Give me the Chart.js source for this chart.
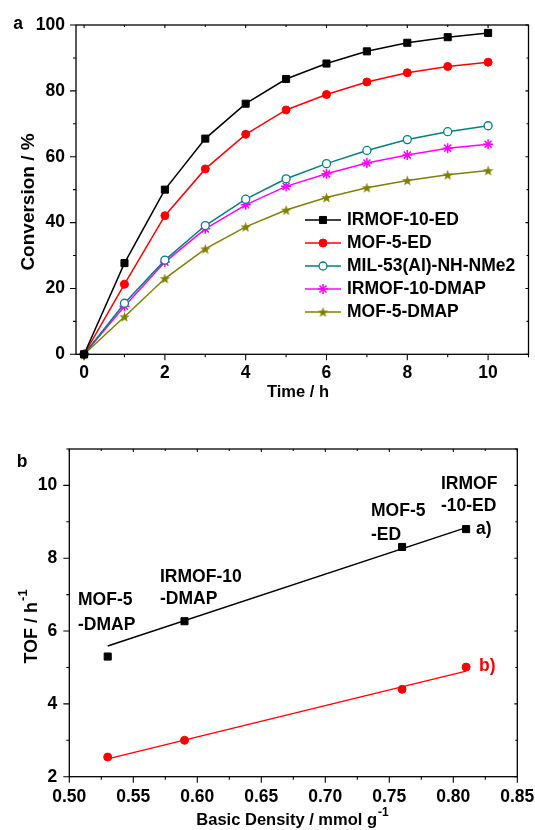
<!DOCTYPE html>
<html>
<head>
<meta charset="utf-8">
<script src="https://cdn.jsdelivr.net/npm/chart.js@4.4.1/dist/chart.umd.min.js"></script>
<style>
html, body { margin: 0; padding: 0; background: #fff; }
canvas { display: block; }
</style>
</head>
<body>
<canvas id="grafA" width="535" height="415"></canvas>
<canvas id="grafB" width="535" height="415"></canvas>
<script>
// Painel a: conversao x tempo
const tempo = [0, 1, 2, 3, 4, 5, 6, 7, 8, 9, 10];
const irmof10ED = [0, 27.7, 50.0, 65.5, 76.1, 83.6, 88.3, 92.0, 94.6, 96.3, 97.6];
const mof5ED = [0, 21.3, 42.1, 56.3, 66.8, 74.2, 78.9, 82.7, 85.5, 87.4, 88.7];
const mil53 = [0, 15.5, 28.6, 39.1, 47.1, 53.3, 57.9, 61.9, 65.2, 67.6, 69.4];
const irmof10DMAP = [0, 14.6, 28.0, 38.1, 45.4, 51.0, 54.8, 58.1, 60.5, 62.6, 63.8];
const mof5DMAP = [0, 11.4, 23.0, 32.0, 38.7, 43.8, 47.6, 50.6, 52.8, 54.5, 55.8];
const nomesA = ["IRMOF-10-ED", "MOF-5-ED", "MIL-53(Al)-NH-NMe2", "IRMOF-10-DMAP", "MOF-5-DMAP"];
const ticksTempo = [0, 2, 4, 6, 8, 10];
const ticksConversao = [0, 20, 40, 60, 80, 100];

// Painel b: TOF x densidade basica
const densidade = [0.53, 0.59, 0.76, 0.81];
const tofA = [5.3, 6.27, 8.31, 8.8];
const tofB = [2.54, 3.0, 4.4, 5.01];
const ajusteX = [0.53, 0.81];
const ajusteA = [5.59, 8.84];
const ajusteB = [2.49, 4.9];
const nomesB = [["MOF-5", "-DMAP"], ["IRMOF-10", "-DMAP"], ["MOF-5", "-ED"], ["IRMOF", "-10-ED"]];
const ticksDensidade = [0.50, 0.55, 0.60, 0.65, 0.70, 0.75, 0.80, 0.85];
const ticksTOF = [2, 4, 6, 8, 10];

const fonte = '"Liberation Sans", Arial, sans-serif';
const fonteTick = {family: fonte, size: 17.5, weight: 'bold'};
const negrito = 'bold 17.5px ' + fonte;

// estrela cheia de 5 pontas para usar como pointStyle
function estrela(cor, r) {
    const c = document.createElement('canvas');
    const t = Math.ceil(r * 2 + 2);
    c.width = t; c.height = t;
    const g = c.getContext('2d');
    g.fillStyle = cor;
    g.beginPath();
    for (let i = 0; i < 10; i++) {
        const ang = -Math.PI / 2 + i * Math.PI / 5;
        const rr = i % 2 == 0 ? r : r * 0.42;
        g.lineTo(t / 2 + rr * Math.cos(ang), t / 2 + rr * Math.sin(ang) + r * 0.1);
    }
    g.closePath();
    g.fill();
    return c;
}

function valoresMenores(escala) {
    const maj = escala.ticks.map(t => t.value);
    const passo = maj[1] - maj[0];
    const out = [];
    maj.forEach(v => [v - passo / 2, v + passo / 2].forEach(m => {
        if (m >= escala.min - 1e-9 && m <= escala.max + 1e-9 && !out.some(o => Math.abs(o - m) < 1e-9)) out.push(m);
    }));
    return out;
}

// caixa com marcas nos quatro lados (fora embaixo/esquerda, dentro em cima/direita)
const moldura = {
    id: 'moldura',
    afterDatasetsDraw(chart) {
        const {ctx, chartArea: a, scales: {x, y}} = chart;
        ctx.save();
        ctx.strokeStyle = '#000';
        ctx.lineWidth = 1.3;
        ctx.strokeRect(a.left, a.top, a.right - a.left, a.bottom - a.top);
        ctx.lineWidth = 1.1;
        ctx.beginPath();
        const marcaX = (v, fora, dentro) => {
            const px = x.getPixelForValue(v);
            ctx.moveTo(px, a.bottom); ctx.lineTo(px, a.bottom + fora);
            ctx.moveTo(px, a.top); ctx.lineTo(px, a.top + dentro);
        };
        const marcaY = (v, fora, dentro) => {
            const py = y.getPixelForValue(v);
            ctx.moveTo(a.left, py); ctx.lineTo(a.left - fora, py);
            ctx.moveTo(a.right, py); ctx.lineTo(a.right - dentro, py);
        };
        x.ticks.forEach(t => marcaX(t.value, 6, 3));
        valoresMenores(x).forEach(v => marcaX(v, 3, 2));
        y.ticks.forEach(t => marcaY(t.value, 6, 3));
        valoresMenores(y).forEach(v => marcaY(v, 3, 2));
        ctx.stroke();
        ctx.restore();
    }
};

// titulo com expoente (ex.: h^-1), centrado em (x, y)
function tituloExpoente(ctx, base, expo, x, y, rot, tam) {
    ctx.save();
    ctx.translate(x, y);
    ctx.rotate(rot);
    ctx.fillStyle = '#000';
    ctx.textBaseline = 'middle';
    ctx.textAlign = 'left';
    const fBase = 'bold ' + tam + 'px ' + fonte;
    const fExpo = 'bold ' + Math.round(tam * 0.7) + 'px ' + fonte;
    ctx.font = fBase;
    const wb = ctx.measureText(base).width;
    ctx.font = fExpo;
    const we = expo ? ctx.measureText(expo).width : 0;
    const ini = -(wb + we) / 2;
    ctx.font = fBase;
    ctx.fillText(base, ini, 0);
    if (expo) {
        ctx.font = fExpo;
        ctx.fillText(expo, ini + wb + 1, -tam * 0.45);
    }
    ctx.restore();
}

function texto(ctx, s, x, y, cor, alinha) {
    ctx.save();
    ctx.fillStyle = cor || '#000';
    ctx.font = negrito;
    ctx.textBaseline = 'middle';
    ctx.textAlign = alinha || 'left';
    ctx.fillText(s, x, y);
    ctx.restore();
}

function desenharPonto(ctx, ds, x, y) {
    if (Chart.helpers && Chart.helpers.drawPoint) {
        Chart.helpers.drawPoint(ctx, {pointStyle: ds.pointStyle, rotation: 0, radius: ds.pointRadius, borderWidth: ds.pointBorderWidth}, x, y);
    }
}

const legendaA = {
    id: 'legendaA',
    afterDraw(chart) {
        const ctx = chart.ctx;
        chart.data.datasets.forEach((ds, i) => {
            const y = 220 + i * 23;
            ctx.save();
            ctx.strokeStyle = ds.borderColor;
            ctx.lineWidth = ds.borderWidth;
            ctx.beginPath(); ctx.moveTo(305, y); ctx.lineTo(341, y); ctx.stroke();
            ctx.fillStyle = ds.pointBackgroundColor;
            ctx.strokeStyle = ds.borderColor;
            ctx.lineWidth = ds.pointBorderWidth;
            desenharPonto(ctx, ds, 323, y);
            ctx.restore();
            texto(ctx, ds.label, 347, y);
        });
        tituloExpoente(ctx, "Conversion / %", "", 29, 202, -Math.PI / 2, 19);
        tituloExpoente(ctx, "Time / h", "", 298, 392, 0, 16.5);
        texto(ctx, "a", 18, 24, '#000', 'center');
    }
};

const rotulosB = {
    id: 'rotulosB',
    afterDraw(chart) {
        const ctx = chart.ctx;
        const pos = [[78, 185, 210], [160, 162, 184], [371, 96, 120], [441, 69, 91]];
        nomesB.forEach((linhas, i) => {
            texto(ctx, linhas[0], pos[i][0], pos[i][1]);
            texto(ctx, linhas[1], pos[i][0], pos[i][2]);
        });
        texto(ctx, "a)", 476, 114, '#000');
        texto(ctx, "b)", 479, 251, '#ff0000');
        tituloExpoente(ctx, "TOF / h", "-1", 32, 212, -Math.PI / 2, 18);
        tituloExpoente(ctx, "Basic Density / mmol g", "-1", 292, 405, 0, 16.5);
        texto(ctx, "b", 22, 47, '#000', 'center');
    }
};

function eixo(min, max, ticks, lado, fmt, padTick) {
    return {
        type: 'linear', min: min, max: max,
        grid: {display: false, drawTicks: false},
        border: {display: false},
        afterBuildTicks: s => { s.ticks = ticks.map(v => ({value: v})); },
        afterFit: s => {
            s.paddingLeft = 0; s.paddingRight = 0; s.paddingTop = 0; s.paddingBottom = 0;
            if (s.isHorizontal()) s.height = lado; else s.width = lado;
        },
        ticks: {font: fonteTick, color: '#000', padding: padTick, maxRotation: 0, autoSkip: false, callback: fmt}
    };
}

new Chart("grafA", {
    type: 'line',
    data: {
        labels: tempo,
        datasets: [
            {label: nomesA[0], data: irmof10ED, borderColor: '#000000', pointBackgroundColor: '#000000', pointStyle: 'rect', pointRadius: 5, pointBorderWidth: 1, borderWidth: 1.5},
            {label: nomesA[1], data: mof5ED, borderColor: '#ff0000', pointBackgroundColor: '#ff0000', pointStyle: 'circle', pointRadius: 4, pointBorderWidth: 1, borderWidth: 1.5},
            {label: nomesA[2], data: mil53, borderColor: '#008080', pointBackgroundColor: '#ffffff', pointStyle: 'circle', pointRadius: 4, pointBorderWidth: 1.3, borderWidth: 1.5},
            {label: nomesA[3], data: irmof10DMAP, borderColor: '#ff00ff', pointBackgroundColor: '#ff00ff', pointStyle: 'star', pointRadius: 5, pointBorderWidth: 1.5, borderWidth: 1.5},
            {label: nomesA[4], data: mof5DMAP, borderColor: '#808000', pointBackgroundColor: '#808000', pointStyle: estrela('#808000', 5.5), pointRadius: 5, pointBorderWidth: 1, borderWidth: 1.5}
        ]
    },
    options: {
        responsive: false,
        animation: false,
        clip: false,
        layout: {padding: {top: 25, right: 6.5, left: 0, bottom: 0}},
        elements: {line: {tension: 0}},
        plugins: {legend: {display: false}, tooltip: {enabled: false}},
        scales: {
            x: eixo(-0.2, 11, ticksTempo, 60.7, v => v, 8),
            y: eixo(0, 100, ticksConversao, 76, v => v, 11)
        }
    },
    plugins: [moldura, legendaA]
});

new Chart("grafB", {
    type: 'line',
    data: {
        labels: densidade,
        datasets: [
            {label: "a)", data: tofA, showLine: false, borderColor: '#000000', pointBackgroundColor: '#000000', pointStyle: 'rect', pointRadius: 5, pointBorderWidth: 1},
            {label: "ajuste a)", data: ajusteX.map((x, i) => ({x: x, y: ajusteA[i]})), borderColor: '#000000', borderWidth: 1.5, pointRadius: 0},
            {label: "b)", data: tofB, showLine: false, borderColor: '#ff0000', pointBackgroundColor: '#ff0000', pointStyle: 'circle', pointRadius: 4, pointBorderWidth: 1},
            {label: "ajuste b)", data: ajusteX.map((x, i) => ({x: x, y: ajusteB[i]})), borderColor: '#ff0000', borderWidth: 1.5, pointRadius: 0}
        ]
    },
    options: {
        responsive: false,
        animation: false,
        clip: false,
        layout: {padding: {top: 34, right: 17.7, left: 0, bottom: 0}},
        plugins: {legend: {display: false}, tooltip: {enabled: false}},
        scales: {
            x: eixo(0.5, 0.85, ticksDensidade, 53.3, v => Number(v).toFixed(2), 10),
            y: eixo(2, 11, ticksTOF, 69.3, v => v, 12)
        }
    },
    plugins: [moldura, rotulosB]
});
</script>
</body>
</html>
